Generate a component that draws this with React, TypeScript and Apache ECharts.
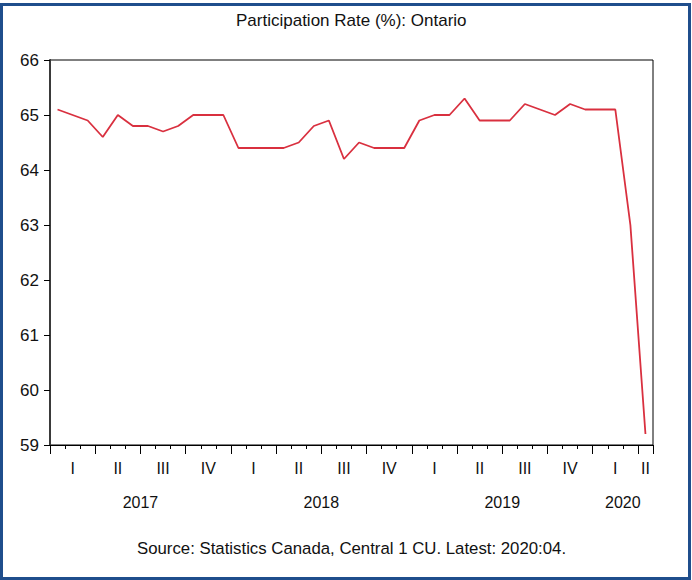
import React, { useEffect, useRef } from "react";
import * as echarts from "echarts";

// Monthly categories 2017:01 .. 2020:04
const months: string[] = [
  "2017:01","2017:02","2017:03","2017:04","2017:05","2017:06","2017:07","2017:08","2017:09","2017:10","2017:11","2017:12",
  "2018:01","2018:02","2018:03","2018:04","2018:05","2018:06","2018:07","2018:08","2018:09","2018:10","2018:11","2018:12",
  "2019:01","2019:02","2019:03","2019:04","2019:05","2019:06","2019:07","2019:08","2019:09","2019:10","2019:11","2019:12",
  "2020:01","2020:02","2020:03","2020:04",
];

// Participation rate (%), Ontario
const rate: number[] = [
  65.1, 65.0, 64.9, 64.6, 65.0, 64.8, 64.8, 64.7, 64.8, 65.0, 65.0, 65.0,
  64.4, 64.4, 64.4, 64.4, 64.5, 64.8, 64.9, 64.2, 64.5, 64.4, 64.4, 64.4,
  64.9, 65.0, 65.0, 65.3, 64.9, 64.9, 64.9, 65.2, 65.1, 65.0, 65.2, 65.1,
  65.1, 65.1, 63.0, 59.2,
];

const quarterNames: string[] = ["I", "II", "III", "IV"];
const yTicks: number[] = [59, 60, 61, 62, 63, 64, 65, 66];

const titleText = "Participation Rate (%): Ontario";
const sourceText = "Source: Statistics Canada, Central 1 CU. Latest: 2020:04.";

const FONT = "'Liberation Sans', Arial, sans-serif";

function buildGroups(keyOf: (m: string) => string) {
  const groups: { key: string; start: number; end: number }[] = [];
  months.forEach((m, i) => {
    const k = keyOf(m);
    const last = groups[groups.length - 1];
    if (last && last.key === k) last.end = i + 1;
    else groups.push({ key: k, start: i, end: i + 1 });
  });
  return groups;
}

export default function App() {
  const ref = useRef<HTMLDivElement>(null);

  useEffect(() => {
    if (!ref.current) return;
    const chart = echarts.init(ref.current, undefined, { renderer: "svg" });

    const n = months.length;
    const quarters = buildGroups((m) => {
      const [y, mo] = m.split(":");
      return y + "Q" + Math.floor((parseInt(mo, 10) - 1) / 3);
    });
    const years = buildGroups((m) => m.split(":")[0]);

    const quarterCenters = quarters.map((q) => (q.start + q.end) / 2);
    const quarterLabelOf = (v: number) => {
      const idx = quarterCenters.findIndex((c) => Math.abs(c - v) < 1e-6);
      if (idx < 0) return "";
      const k = quarters[idx].key;
      return quarterNames[parseInt(k.split("Q")[1], 10)];
    };
    const yearCenters = years.map((y) => (y.start + y.end) / 2);
    const yearLabelOf = (v: number) => {
      const idx = yearCenters.findIndex((c) => Math.abs(c - v) < 1e-6);
      return idx < 0 ? "" : years[idx].key;
    };
    const monthBounds = Array.from({ length: n + 1 }, (_, i) => i);
    const quarterBounds = [...quarters.map((q) => q.start), n];

    const baseX = {
      type: "value",
      min: 0,
      max: n,
      position: "bottom",
      splitLine: { show: false },
    };

    chart.setOption({
      animation: false,
      backgroundColor: "#ffffff",
      textStyle: { fontFamily: FONT },
      title: [
        {
          text: titleText,
          left: 231,
          top: 7,
          padding: 5,
          textStyle: { fontFamily: FONT, fontSize: 17, fontWeight: "normal", color: "#111" },
        },
        {
          text: sourceText,
          left: 132,
          top: 535,
          padding: 5,
          textStyle: { fontFamily: FONT, fontSize: 16.8, fontWeight: "normal", color: "#111" },
        },
      ],
      graphic: [
        {
          type: "rect",
          shape: { x: 1.5, y: 4.5, width: 688, height: 574 },
          style: { fill: "none", stroke: "#1f4e8c", lineWidth: 3 },
          silent: true,
        },
      ],
      grid: {
        left: 50,
        top: 60,
        right: 39,
        bottom: 135,
        show: true,
        borderColor: "#000",
        borderWidth: 1,
        containLabel: false,
      },
      xAxis: [
        {
          ...baseX,
          axisLine: { show: true, lineStyle: { color: "#000", width: 1 } },
          axisTick: { show: true, customValues: monthBounds, length: 4, lineStyle: { color: "#000" } },
          axisLabel: { show: false },
        },
        {
          ...baseX,
          axisLine: { show: false },
          axisTick: { show: true, customValues: quarterBounds, length: 9, lineStyle: { color: "#000" } },
          axisLabel: {
            show: true,
            customValues: quarterCenters,
            formatter: (v: number) => quarterLabelOf(v),
            margin: 15,
            fontSize: 16,
            color: "#111",
            fontFamily: FONT,
          },
        },
        {
          ...baseX,
          axisLine: { show: false },
          axisTick: { show: false },
          axisLabel: {
            show: true,
            customValues: yearCenters,
            formatter: (v: number) => yearLabelOf(v),
            margin: 49,
            fontSize: 16,
            color: "#111",
            fontFamily: FONT,
          },
        },
      ],
      yAxis: [
        {
          type: "value",
          min: yTicks[0],
          max: yTicks[yTicks.length - 1],
          interval: 1,
          position: "left",
          splitLine: { show: false },
          axisLine: { show: true, lineStyle: { color: "#000", width: 1 } },
          axisTick: { show: true, length: 6, lineStyle: { color: "#000" } },
          axisLabel: { margin: 11, fontSize: 17, color: "#111", fontFamily: FONT },
        },
        {
          type: "value",
          min: yTicks[0],
          max: yTicks[yTicks.length - 1],
          interval: 1,
          position: "right",
          splitLine: { show: false },
          axisLine: { show: true, lineStyle: { color: "#3a3a3a", width: 2 } },
          axisTick: { show: false },
          axisLabel: { show: false },
        },
      ],
      series: [
        {
          type: "line",
          name: "Participation Rate",
          xAxisIndex: 0,
          yAxisIndex: 0,
          data: rate.map((v, i) => [i + 0.5, v]),
          showSymbol: false,
          symbol: "none",
          lineStyle: { color: "#d9303f", width: 1.8 },
          silent: true,
        },
      ],
    });

    return () => chart.dispose();
  }, []);

  return (
    <div
      ref={ref}
      style={{ position: "fixed", left: 0, top: 0, width: 692, height: 580, background: "#fff" }}
    />
  );
}
